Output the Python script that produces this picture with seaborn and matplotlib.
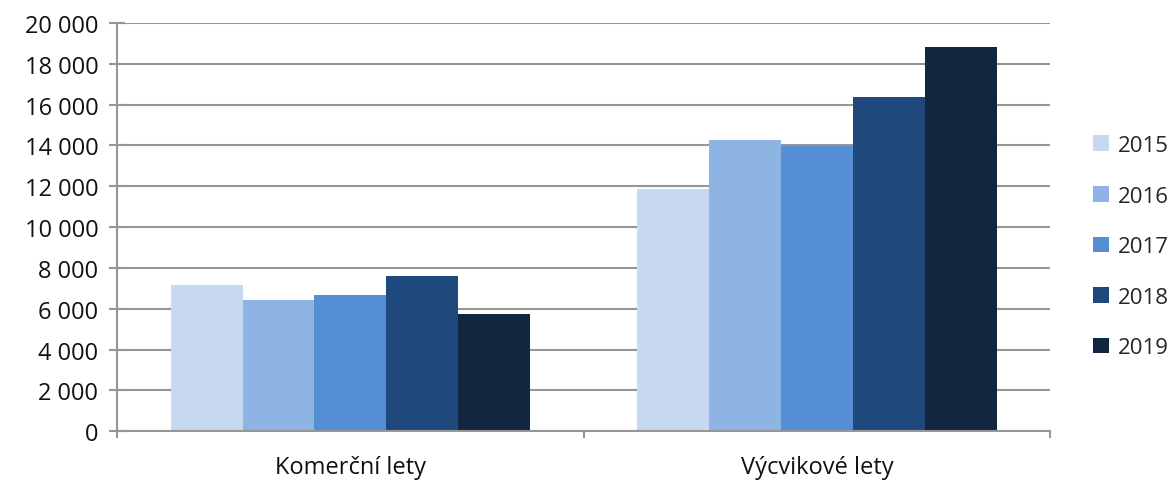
import numpy as np
import pandas as pd
import matplotlib.pyplot as plt
import seaborn as sns
from matplotlib.ticker import FuncFormatter, FixedLocator

# data
categories = ["Komerční lety", "Výcvikové lety"]
years = ["2015", "2016", "2017", "2018", "2019"]
komercni = [7150, 6450, 6650, 7580, 5720]
vycvikove = [11860, 14280, 13990, 16360, 18810]
colors = ["#C6D9F1", "#8EB4E3", "#558ED5", "#1F497D", "#122640"]

df = pd.DataFrame({
    "kategorie": np.repeat(categories, len(years)),
    "rok": years * 2,
    "pocet": komercni + vycvikove,
})

sns.set_style("white")
plt.rcParams["font.family"] = ["Open Sans", "DejaVu Sans"]

fig = plt.figure(figsize=(11.76, 4.85), dpi=100)
ax = fig.add_axes([0.0995, 0.109, 0.7935, 0.8415])

sns.barplot(data=df, x="kategorie", y="pocet", hue="rok", palette=colors,
            width=0.77, gap=0, saturation=1, linewidth=0, ax=ax, legend=True)

ax.set_ylim(0, 20000)
ax.set_xlim(-0.5, 1.5)
ax.set_yticks(np.arange(0, 20001, 2000))
ax.yaxis.set_major_formatter(FuncFormatter(lambda v, p: f"{int(v):,}".replace(",", " ")))
ax.set_axisbelow(True)
ax.yaxis.grid(True, color="#969696", linewidth=1.5)
ax.xaxis.grid(False)

for s in ["top", "right"]:
    ax.spines[s].set_visible(False)
for s in ["left", "bottom"]:
    ax.spines[s].set_color("#969696")
    ax.spines[s].set_linewidth(1.5)

ax.set_xlabel("")
ax.set_ylabel("")
ax.tick_params(axis="y", direction="inout", length=11, width=1.5, color="#969696",
               labelsize=17, labelcolor="#111111", left=True, pad=8)
ax.tick_params(axis="x", which="major", length=0, labelsize=17, labelcolor="#111111", pad=17)
ax.xaxis.set_minor_locator(FixedLocator([-0.5, 0.5, 1.5]))
ax.tick_params(axis="x", which="minor", direction="out", length=5, width=1.5,
               color="#969696", bottom=True)

leg = ax.legend(loc="center left", bbox_to_anchor=(1.046, 0.452), frameon=False,
                fontsize=16, handlelength=0.7, handleheight=0.7, handletextpad=0.4,
                labelspacing=1.33, borderpad=0, borderaxespad=0, title=None)

fig.savefig("out.png", dpi=100)
